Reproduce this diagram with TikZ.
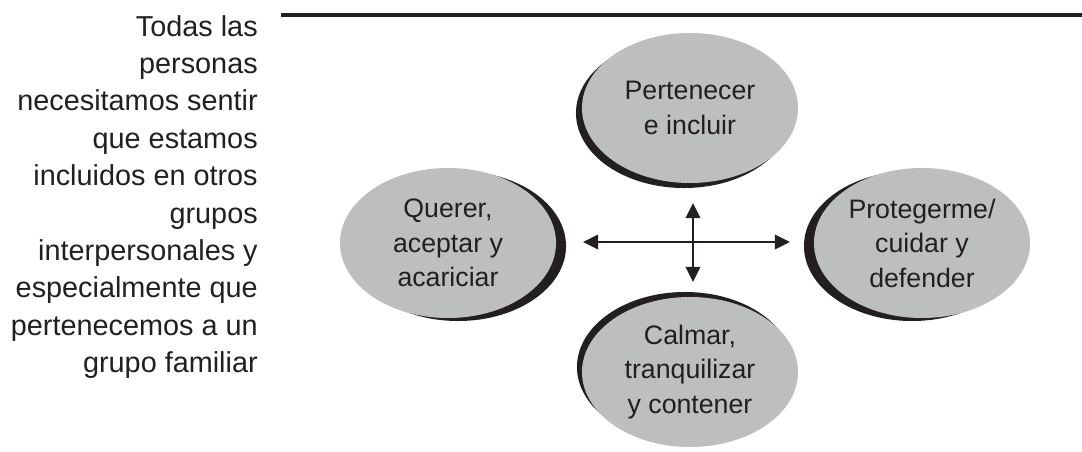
\documentclass[tikz,border=0pt]{standalone}
\usepackage{fontspec}
\setmainfont{Liberation Sans}
\usetikzlibrary{shapes.geometric,shadows,arrows.meta}

\definecolor{tinta}{HTML}{231F20}
\definecolor{gris}{HTML}{BCBEC0}

\tikzset{
  burbuja/.style={ellipse, fill=gris, text=tinta, inner sep=0pt,
    minimum width=5.4cm, minimum height=3.75cm, align=center,
    font=\fontsize{19}{24.5}\selectfont},
  sombra/.style 2 args={drop shadow={shadow xshift=#1, shadow yshift=#2,
    fill=tinta, opacity=1}},
  flecha/.style={tinta, line width=1.8pt,
    {Triangle[length=0.38cm,width=0.36cm]}-{Triangle[length=0.38cm,width=0.36cm]}}
}

\begin{document}
\begin{tikzpicture}[x=0.025cm, y=-0.025cm]
  \useasboundingbox (0,0) rectangle (1082,452);

  % rule at the top
  \coordinate (reglaA) at (281,15);
  \coordinate (reglaB) at (1082,15);
  \draw[tinta, line width=2.6pt] (reglaA) -- (reglaB);

  % text on the left
  \node[anchor=east, align=right, text=tinta, inner sep=0pt,
        font=\fontsize{20.5}{26.6}\selectfont] (texto) at (258,197)
    {Todas las\\ personas\\ necesitamos sentir\\ que estamos\\
     incluidos en otros\\ grupos\\ interpersonales y\\ especialmente que\\
     pertenecemos a un\\ grupo familiar};

  % the four needs
  \node[burbuja, sombra={-0.15cm}{-0.125cm}] (pertenecer) at (690,108)
    {Pertenecer\\ e incluir};
  \node[burbuja, sombra={0.25cm}{-0.075cm}] (querer) at (448,243)
    {Querer,\\ aceptar y\\ acariciar};
  \node[burbuja, sombra={-0.25cm}{-0.075cm}] (proteger) at (922,243)
    {Protegerme/\\ cuidar y\\ defender};
  \node[burbuja, sombra={-0.125cm}{0.125cm}] (calmar) at (690,372)
    {Calmar,\\ tranquilizar\\ y contener};

  % the cross of arrows
  \coordinate (izq) at (583,242);
  \coordinate (der) at (790,242);
  \coordinate (arr) at (693,203);
  \coordinate (aba) at (693,282);
  \draw[flecha] (izq) -- (der);
  \draw[flecha] (arr) -- (aba);
\end{tikzpicture}
\end{document}
